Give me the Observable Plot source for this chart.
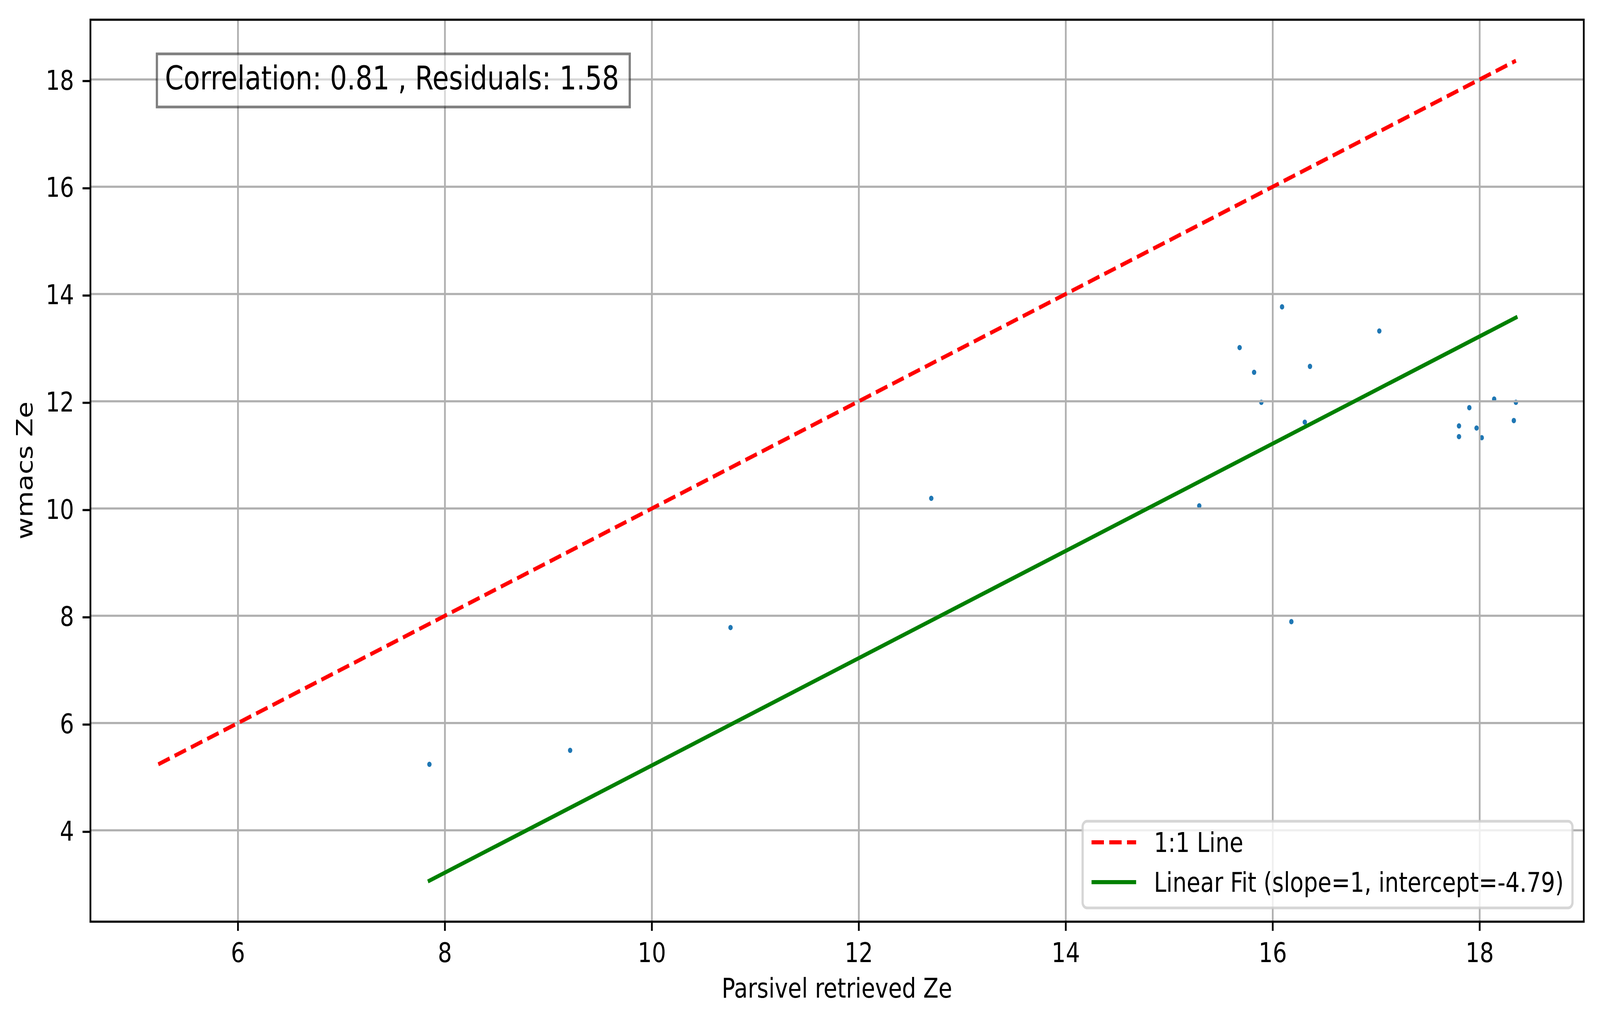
<!DOCTYPE html>
<html>
<head>
<meta charset="utf-8">
<script src="https://cdn.jsdelivr.net/npm/d3@7"></script>
<script src="https://cdn.jsdelivr.net/npm/@observablehq/plot@0.6"></script>
<style>
  html, body { margin: 0; padding: 0; background: #fff; overflow: hidden; }
  #chart { width: 100vw; height: 100vh; overflow: hidden; }
  svg { display: block; }
</style>
</head>
<body>
<div id="chart"></div>
<script>
// ---------------- data ----------------
const parsivelZe = [7.85, 9.21, 10.76, 12.70, 15.29, 15.68, 15.82, 15.89, 16.09, 16.18, 16.31, 16.36, 17.03, 17.80, 17.80, 17.90, 17.97, 18.02, 18.14, 18.33, 18.35];
const wmacsZe    = [5.23, 5.49, 7.78, 10.19, 10.05, 13.00, 12.54, 11.98, 13.76, 7.89, 11.61, 12.65, 13.31, 11.54, 11.34, 11.88, 11.50, 11.32, 12.04, 11.64, 11.98];
const xTicks = [6, 8, 10, 12, 14, 16, 18];
const yTicks = [4, 6, 8, 10, 12, 14, 16, 18];
const fitSlope = 1;
const fitIntercept = -4.79;
const correlation = 0.81;
const residuals = 1.58;
const xLabel = "Parsivel retrieved Ze";
const yLabel = "wmacs Ze";
const legendLabels = ["1:1 Line", `Linear Fit (slope=${fitSlope}, intercept=${fitIntercept})`];
const statsText = `Correlation: ${correlation} , Residuals: ${residuals}`;

// ---------------- derived tables ----------------
const points = parsivelZe.map((x, i) => ({x, y: wmacsZe[i]}));
const lo = Math.min(...parsivelZe, ...wmacsZe);
const hi = Math.max(...parsivelZe, ...wmacsZe);
const oneToOne = [lo, hi].map(v => ({x: v, y: v}));
const fitLine = [d3.min(parsivelZe), d3.max(parsivelZe)].map(x => ({x, y: fitSlope * x + fitIntercept}));

const allX = [...parsivelZe, ...oneToOne.map(d => d.x), ...fitLine.map(d => d.x)];
const allY = [...wmacsZe, ...oneToOne.map(d => d.y), ...fitLine.map(d => d.y)];
function padded(vals) {
  const [a, b] = d3.extent(vals);
  const m = (b - a) * 0.05;
  return [a - m, b + m];
}

// ---------------- layout ----------------
const W = 4981, H = 2620;
const mL = 281, mR = 51, mT = 50, mB = 260;
const FONT = "DejaVu Sans";
const FS = 69.4;          // 10pt at 500 dpi
const LW = 10.4;          // 1.5pt
const THIN = 5.5;         // 0.8pt

const svg = Plot.plot({
  width: W,
  height: H,
  marginLeft: mL, marginRight: mR, marginTop: mT, marginBottom: mB,
  style: {fontFamily: FONT, fontSize: FS + "px", color: "black", background: "white"},
  x: {domain: padded(allX), label: null},
  y: {domain: padded(allY), label: null},
  marks: [
    Plot.dot(points, {x: "x", y: "y", r: 6.8, fill: "#1f77b4", stroke: null}),
    Plot.gridX(xTicks, {stroke: "#b0b0b0", strokeOpacity: 1, strokeWidth: THIN}),
    Plot.gridY(yTicks, {stroke: "#b0b0b0", strokeOpacity: 1, strokeWidth: THIN}),
    Plot.line(oneToOne, {x: "x", y: "y", stroke: "red", strokeWidth: LW, strokeDasharray: "38.5,16.7", strokeLinecap: "butt"}),
    Plot.line(fitLine, {x: "x", y: "y", stroke: "green", strokeWidth: LW, strokeLinecap: "square"}),
    Plot.frame({stroke: "black", strokeWidth: THIN}),
    Plot.axisX(xTicks, {tickSize: 24, tickPadding: 30, strokeWidth: THIN, label: null, fontSize: FS, tickFormat: d => String(d)}),
    Plot.axisY(yTicks, {tickSize: 24, tickPadding: 27, dy: 4, strokeWidth: THIN, label: null, fontSize: FS, tickFormat: d => String(d)})
  ]
});

// ---------------- annotations (labels, stats box, legend) ----------------
const g = d3.select(svg).append("g")
  .attr("font-family", FONT).attr("fill", "black").attr("text-anchor", "start");
const fL = mL, fR = W - mR, fT = mT, fB = H - mB;
const fW = fR - fL, fH = fB - fT;

// axis labels
g.append("text")
  .attr("x", (fL + fR) / 2).attr("y", fB + 195)
  .attr("text-anchor", "middle").attr("font-size", FS)
  .text(xLabel);
g.append("text")
  .attr("transform", `translate(${101.5},${(fT + fB) / 2}) rotate(-90)`)
  .attr("text-anchor", "middle").attr("font-size", FS)
  .text(yLabel);

// stats box (axes fraction 0.05, 0.95)
const FS12 = 83.3;
const tx = fL + 0.05 * fW, ty = fT + 0.05 * fH;
g.append("rect")
  .attr("x", tx - 25).attr("y", ty - 27.5)
  .attr("width", 1472).attr("height", 136)
  .attr("fill", "white").attr("fill-opacity", 0.5)
  .attr("stroke", "black").attr("stroke-opacity", 0.5).attr("stroke-width", 6.94);
g.append("text")
  .attr("x", tx).attr("y", ty + 63.5)
  .attr("text-anchor", "start")
  .attr("font-size", FS12)
  .text(statsText);

// legend (lower right)
const legW = 1525, legH = 222;
const legR = fR - 34.7, legB = fB - 34.7;
const legL = legR - legW, legT = legB - legH;
const lg = g.append("g");
lg.append("rect")
  .attr("x", legL).attr("y", legT).attr("width", legW).attr("height", legH)
  .attr("rx", 14).attr("ry", 14)
  .attr("fill", "white").attr("fill-opacity", 0.8)
  .attr("stroke", "#cccccc").attr("stroke-opacity", 0.8).attr("stroke-width", 6.94);
const rows = [
  {label: legendLabels[0], stroke: "red", dash: "38.5,16.7", cy: legB - 168},
  {label: legendLabels[1], stroke: "green", dash: null, cy: legB - 66}
];
rows.forEach(r => {
  const l = lg.append("line")
    .attr("x1", legL + 27.8).attr("x2", legL + 166.6)
    .attr("y1", r.cy).attr("y2", r.cy)
    .attr("stroke", r.stroke).attr("stroke-width", LW);
  if (r.dash) l.attr("stroke-dasharray", r.dash).attr("stroke-linecap", "butt");
  lg.append("text")
    .attr("x", legL + 222).attr("y", r.cy + 25)
    .attr("text-anchor", "start")
    .attr("font-size", FS)
    .text(r.label);
});

// the browser window is narrower than 4981 px: fill it, keeping the 4981x2620 drawing coordinates
svg.setAttribute("viewBox", `0 0 ${W} ${H}`);
svg.setAttribute("preserveAspectRatio", "none");
svg.style.width = "100vw";
svg.style.height = "100vh";
svg.style.maxWidth = "none";

document.getElementById("chart").appendChild(svg);
</script>
</body>
</html>
